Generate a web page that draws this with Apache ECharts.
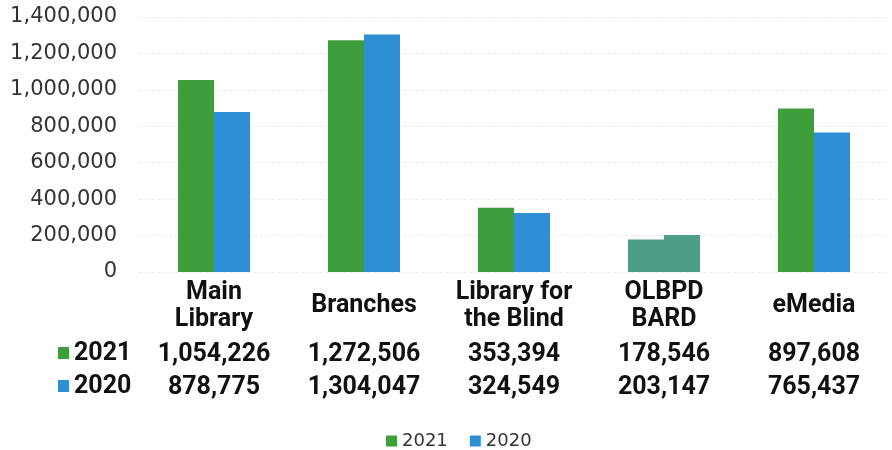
<!DOCTYPE html>
<html><head><meta charset="utf-8">
<script src="https://cdn.jsdelivr.net/npm/echarts@6/dist/echarts.min.js"></script>
<style>html,body{margin:0;padding:0;background:#fff}#c{width:892px;height:450px}</style>
</head><body><div id="c"></div>
<script>
const categories = ['Main\nLibrary', 'Branches', 'Library for\nthe Blind', 'OLBPD\nBARD', 'eMedia'];
const values2021 = [1054226, 1272506, 353394, 178546, 897608];
const values2020 = [878775, 1304047, 324549, 203147, 765437];
const seriesNames = ['2021', '2020'];
const yTicks = [0, 200000, 400000, 600000, 800000, 1000000, 1200000, 1400000];

const GREEN = '#3f9e3c', BLUE = '#2f8fd5', TEAL = '#4c9e86';
const fmt = v => v.toLocaleString('en-US');

const chart = echarts.init(document.getElementById('c'));
const barData = (vals, color) => vals.map((v, i) => categories[i].startsWith('OLBPD')
  ? { value: v, itemStyle: { color: TEAL } } : { value: v, itemStyle: { color } });

chart.setOption({
  animation: false,
  grid: { left: 139, right: 3, top: 17, bottom: 178 },
  legend: {
    data: seriesNames, left: 381, top: 427, icon: 'rect', itemWidth: 11, itemHeight: 11, itemGap: 22,
    textStyle: { fontFamily: 'DejaVu Sans', fontSize: 18, color: '#333' }
  },
  xAxis: {
    type: 'category', data: categories,
    axisLine: { show: false }, axisTick: { show: false },
    axisLabel: {
      interval: 0, margin: 7,
      formatter: (val, i) => {
        const parts = val.split('\n');
        const head = parts.length === 2 ? `{c|${parts[0]}}\n{c|${parts[1]}}` : `{one|${parts[0]}}`;
        return head + `\n{v1|${fmt(values2021[i])}}\n{v2|${fmt(values2020[i])}}`;
      },
      rich: {
        c: { fontFamily: 'Roboto', fontWeight: 700, fontSize: 25, lineHeight: 27, color: '#111' },
        one: { fontFamily: 'Roboto', fontWeight: 700, fontSize: 25, lineHeight: 54, color: '#111' },
        v1: { fontFamily: 'Roboto', fontWeight: 700, fontSize: 25, lineHeight: 43, color: '#111' },
        v2: { fontFamily: 'Roboto', fontWeight: 700, fontSize: 25, lineHeight: 23, color: '#111' }
      }
    }
  },
  yAxis: {
    type: 'value', min: yTicks[0], max: yTicks[yTicks.length - 1], interval: yTicks[1] - yTicks[0],
    axisLine: { show: false }, axisTick: { show: false },
    splitLine: { lineStyle: { color: '#ececec', type: 'dashed' } },
    axisLabel: { margin: 22, fontFamily: 'DejaVu Sans', fontSize: 21, color: '#333', formatter: v => fmt(v) }
  },
  series: [
    { name: seriesNames[0], type: 'bar', data: barData(values2021, GREEN), itemStyle: { color: GREEN }, barGap: '0%', barCategoryGap: '52%' },
    { name: seriesNames[1], type: 'bar', data: barData(values2020, BLUE), itemStyle: { color: BLUE } }
  ],
  graphic: [
    { type: 'rect', left: 58, top: 347, shape: { width: 11, height: 12 }, style: { fill: GREEN } },
    { type: 'text', left: 74, top: 341, style: { text: seriesNames[0], font: '700 25px Roboto', fill: '#111' } },
    { type: 'rect', left: 58, top: 380, shape: { width: 11, height: 12 }, style: { fill: BLUE } },
    { type: 'text', left: 74, top: 374, style: { text: seriesNames[1], font: '700 25px Roboto', fill: '#111' } }
  ]
});
</script></body></html>
